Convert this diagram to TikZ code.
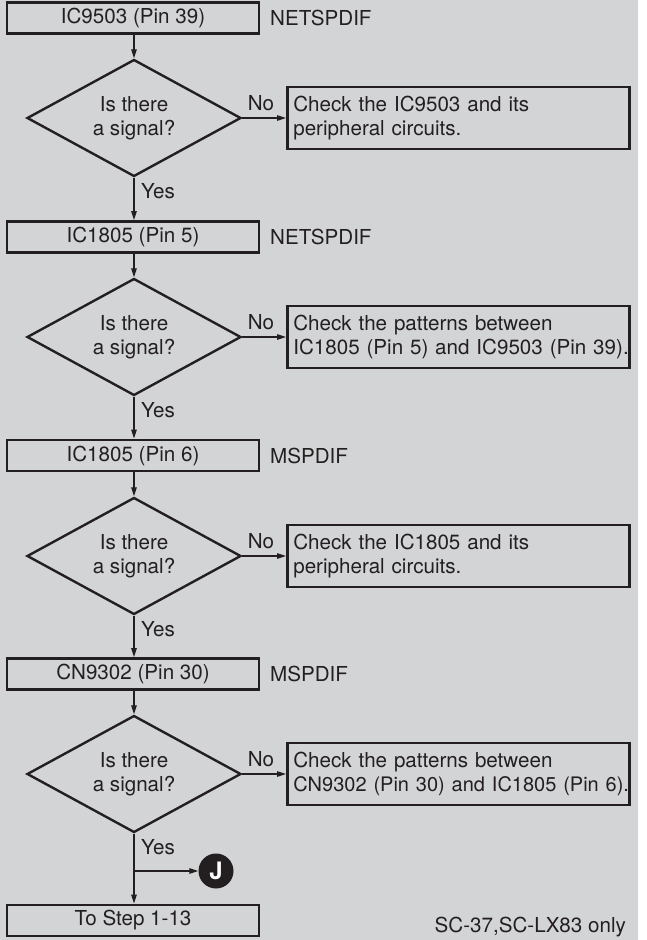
\documentclass[tikz,border=0pt]{standalone}
\usepackage{fontspec}
\setmainfont{TeX Gyre Heros}
\usetikzlibrary{shapes.geometric,arrows.meta}
\definecolor{bg}{HTML}{D3D4D6}
\definecolor{ink}{HTML}{231F20}
\begin{document}
\begin{tikzpicture}[x=1pt,y=-1pt,
  every node/.style={font=\fontsize{20.6}{23.5}\selectfont, text=ink},
  stepbox/.style={draw=ink, line width=2.8pt, minimum width=252pt, minimum height=31pt, inner sep=0pt},
  decision/.style={diamond, draw=ink, line width=2.4pt, minimum width=214pt, minimum height=117pt, aspect=1.83, inner sep=0pt, align=center},
  checkbox/.style={draw=ink, line width=2.6pt, anchor=west, text width=330pt, inner xsep=6pt, inner ysep=0pt, minimum height=62pt, align=left},
  flow/.style={draw=ink, line width=1.1pt, -{Triangle[length=9pt,width=5.5pt]}},
  sidelabel/.style={anchor=west, inner sep=0pt},
  ynlabel/.style={inner sep=0pt},
]
\useasboundingbox (0,0) rectangle (646,940);
\fill[bg] (0,0) rectangle (638,940);

% main column
\node[stepbox] (b1) at (133,18) {IC9503 (Pin 39)};
\node[sidelabel] (l1) at (270,18) {NETSPDIF};
\node[decision] (d1) at (134,118) {Is there\\a signal?};
\node[checkbox] (c1) at (286,118) {\mbox{Check the IC9503 and its}\\\mbox{peripheral circuits.}};

\node[stepbox] (b2) at (133,237) {IC1805 (Pin 5)};
\node[sidelabel] (l2) at (270,237) {NETSPDIF};
\node[decision] (d2) at (134,337) {Is there\\a signal?};
\node[checkbox] (c2) at (286,337) {\mbox{Check the patterns between}\\\mbox{IC1805 (Pin 5) and IC9503 (Pin 39).}};

\node[stepbox] (b3) at (133,455.5) {IC1805 (Pin 6)};
\node[sidelabel] (l3) at (270,455.5) {MSPDIF};
\node[decision] (d3) at (134,556) {Is there\\a signal?};
\node[checkbox] (c3) at (286,556) {\mbox{Check the IC1805 and its}\\\mbox{peripheral circuits.}};

\node[stepbox] (b4) at (133,674) {CN9302 (Pin 30)};
\node[sidelabel] (l4) at (270,674) {MSPDIF};
\node[decision] (d4) at (134,774) {Is there\\a signal?};
\node[checkbox] (c4) at (286,774) {\mbox{Check the patterns between}\\\mbox{\fontsize{20}{23.5}\selectfont CN9302 (Pin 30) and IC1805 (Pin 6).}};

\node[stepbox] (b5) at (133,920.5) {To Step 1-13};
\node[circle, fill=ink, minimum size=35pt, inner sep=0pt, text=white, font=\bfseries\fontsize{24}{24}\selectfont] (J) at (216,871) {J};
\coordinate (br) at (134,871);

\node[anchor=east, inner sep=0pt] (note) at (626,927) {SC-37,SC-LX83 only};

% connectors
\foreach \i in {1,2,3,4}{
  \draw[flow] (b\i.south -| d\i.north) -- (d\i.north);
  \draw[flow] (d\i.east) -- (c\i.west);
  \node[ynlabel] at ([xshift=-25pt,yshift=15pt]c\i.west) {No};
  \node[ynlabel, anchor=west] at ([xshift=7pt,yshift=-13pt]d\i.south) {Yes};
}
\draw[flow] (d1.south) -- (b2.north -| d1.south);
\draw[flow] (d2.south) -- (b3.north -| d2.south);
\draw[flow] (d3.south) -- (b4.north -| d3.south);
\draw[flow] (d4.south) -- (b5.north -| d4.south);
\draw[flow] (br) -- (J.west);
\end{tikzpicture}
\end{document}
